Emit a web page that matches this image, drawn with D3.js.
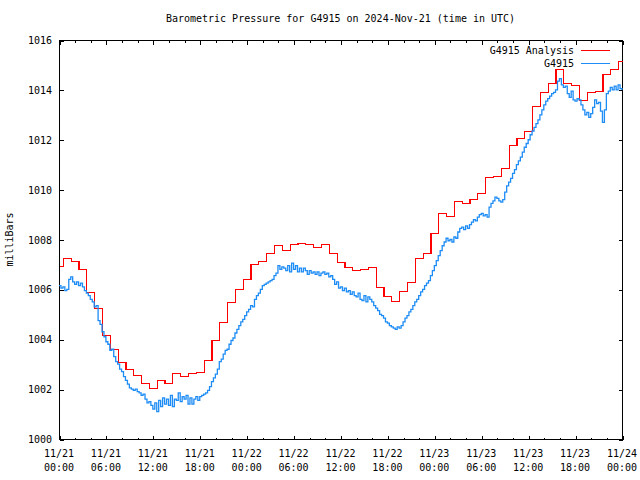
<!DOCTYPE html>
<html><head><meta charset="utf-8">
<script src="https://cdn.jsdelivr.net/npm/d3@7"></script>
<style>
html,body{margin:0;padding:0;background:#fff;}
text{font-family:"DejaVu Sans Mono",monospace;font-size:10px;fill:#000;}
</style></head>
<body>
<script>
const titleText = "Barometric Pressure for G4915 on 2024-Nov-21 (time in UTC)";
const yLabel = "milliBars";
const seriesNames = ["G4915 Analysis", "G4915"];
const seriesColors = ["#ff0000", "#1e8cf5"];
const yTicks = [1000, 1002, 1004, 1006, 1008, 1010, 1012, 1014, 1016];
const xTickHours = [0, 6, 12, 18, 24, 30, 36, 42, 48, 54, 60, 66, 72];
const xTickDates = ["11/21","11/21","11/21","11/21","11/22","11/22","11/22","11/22","11/23","11/23","11/23","11/23","11/24"];
const xTickTimes = ["00:00","06:00","12:00","18:00","00:00","06:00","12:00","18:00","00:00","06:00","12:00","18:00","00:00"];

// hourly analysis values, hour 0..72
const analysisValues = [
 1006.95,1007.25,1007.15,1006.8,1005.9,1005.25,1004.17,1003.6,1003.1,1002.79,
 1002.57,1002.26,1002.03,1002.35,1002.26,1002.63,1002.53,1002.63,1002.7,1003.17,
 1003.97,1004.68,1005.49,1006.0,1006.4,1007.02,1007.12,1007.45,1007.78,1007.57,
 1007.82,1007.85,1007.82,1007.7,1007.81,1007.45,1007.09,1006.91,1006.78,1006.8,
 1006.88,1006.08,1005.73,1005.53,1005.93,1006.3,1007.26,1007.46,1008.25,1009.05,
 1008.94,1009.53,1009.45,1009.61,1009.85,1010.49,1010.55,1010.87,1011.79,1012.06,
 1012.36,1013.35,1013.92,1014.26,1014.83,1014.28,1014.18,1013.59,1013.92,1013.96,
 1014.63,1014.83,1015.17
];

// station observations every 15 minutes, hour 0..72
const stationValues = [
 1006.15,1006.05,1006.1,1005.95, 1006.0,1006.4,1006.5,1006.3, 1006.2,1006.3,1006.15,1006.25,
 1006.1,1005.95,1005.85,1005.75, 1005.6,1005.5,1005.3,1005.35, 1004.75,1004.6,1004.3,1004.1,
 1003.9,1003.8,1003.55,1003.6, 1003.3,1003.1,1003.0,1002.8, 1002.7,1002.5,1002.35,1002.2,
 1002.05,1002.0,1001.95,1002.0, 1001.9,1001.85,1001.75,1001.8, 1001.6,1001.45,1001.5,1001.35,
 1001.2,1001.45,1001.1,1001.55, 1001.3,1001.65,1001.4,1001.6, 1001.35,1001.75,1001.3,1001.6,
 1001.55,1001.85,1001.5,1001.7, 1001.6,1001.75,1001.4,1001.65, 1001.4,1001.6,1001.7,1001.55,
 1001.7,1001.75,1001.8,1001.85, 1001.95,1002.1,1002.3,1002.45, 1002.6,1002.8,1003.1,1003.2,
 1003.4,1003.55,1003.6,1003.8, 1003.95,1004.05,1004.25,1004.4, 1004.55,1004.7,1004.8,1004.95,
 1005.1,1005.2,1005.35,1005.3, 1005.6,1005.75,1005.85,1006.0, 1006.15,1006.2,1006.25,1006.3,
 1006.35,1006.4,1006.55,1006.65, 1006.95,1006.8,1006.9,1006.85, 1006.75,1006.95,1006.7,1007.05,
 1006.8,1006.95,1006.7,1006.85, 1006.7,1006.85,1006.75,1006.6, 1006.75,1006.65,1006.7,1006.6,
 1006.7,1006.55,1006.65,1006.7, 1006.6,1006.65,1006.5,1006.55, 1006.4,1006.2,1006.3,1006.05,
 1006.1,1005.95,1006.05,1005.9, 1005.95,1005.8,1005.9,1005.75, 1005.7,1005.85,1005.6,1005.55,
 1005.75,1005.5,1005.7,1005.6, 1005.5,1005.35,1005.25,1005.15, 1005.0,1004.95,1004.85,1004.7,
 1004.65,1004.55,1004.5,1004.45, 1004.4,1004.5,1004.45,1004.55, 1004.7,1004.85,1004.95,1005.1,
 1005.2,1005.35,1005.5,1005.6, 1005.75,1005.9,1006.0,1006.15, 1006.25,1006.35,1006.55,1006.75,
 1006.95,1007.15,1007.35,1007.55, 1007.75,1007.9,1008.05,1007.95, 1008.0,1007.9,1008.1,1008.05,
 1008.3,1008.45,1008.5,1008.4, 1008.55,1008.45,1008.6,1008.7, 1008.8,1008.75,1008.9,1009.0,
 1009.05,1008.95,1009.0,1008.9, 1009.3,1009.45,1009.55,1009.7, 1009.65,1009.55,1009.5,1009.6,
 1009.9,1010.15,1010.3,1010.45, 1010.65,1010.8,1011.0,1011.15, 1011.3,1011.5,1011.7,1011.85,
 1012.0,1012.2,1012.35,1012.5, 1012.65,1012.8,1013.0,1013.2, 1013.4,1013.55,1013.65,1013.75,
 1013.85,1013.9,1014.0,1014.35, 1014.45,1014.2,1014.1,1014.15, 1013.85,1013.7,1013.95,1013.6,
 1013.55,1013.65,1013.6,1013.4, 1013.2,1013.0,1013.1,1012.9, 1013.05,1013.3,1013.6,1013.45,
 1013.5,1013.15,1012.7,1013.2, 1013.85,1013.95,1014.1,1014.0, 1014.15,1014.0,1014.2,1014.05,
 1014.0
];

const W = 640, H = 480;
const L = 59, R = 622, T = 40, B = 439;

const svg = d3.select("body").append("svg").attr("width", W).attr("height", H);
svg.append("rect").attr("width", W).attr("height", H).attr("fill", "#fff");

const x = d3.scaleLinear().domain([0, 72]).range([L, R]);
const y = d3.scaleLinear().domain([1000, 1016]).range([B, T]);

// title
svg.append("text").attr("x", (L + R) / 2).attr("y", 22).attr("text-anchor", "middle").text(titleText);
// y label
svg.append("text").attr("transform", `translate(13,${(T + B) / 2}) rotate(-90)`).attr("text-anchor", "middle").text(yLabel);

const g = svg.append("g").attr("shape-rendering", "crispEdges");

// axes with d3 axis generators
const minorHours = d3.range(0, 73, 2).filter(h => h % 6 !== 0);
g.append("g").attr("transform", `translate(0,${B + 0.5})`)
  .call(d3.axisTop(x).tickValues(minorHours).tickSize(2).tickFormat(""));
g.append("g").attr("transform", `translate(0,${B + 0.5})`)
  .call(d3.axisTop(x).tickValues(xTickHours).tickSize(4).tickFormat(""));
g.append("g").attr("transform", `translate(0,${T + 0.5})`)
  .call(d3.axisBottom(x).tickValues(minorHours).tickSize(2).tickFormat(""));
g.append("g").attr("transform", `translate(0,${T + 0.5})`)
  .call(d3.axisBottom(x).tickValues(xTickHours).tickSize(4).tickFormat(""));
g.append("g").attr("transform", `translate(${L + 0.5},0)`)
  .call(d3.axisRight(y).tickValues(yTicks).tickSize(4).tickFormat(""));
g.append("g").attr("transform", `translate(${R + 0.5},0)`)
  .call(d3.axisLeft(y).tickValues(yTicks).tickSize(4).tickFormat(""));
g.selectAll(".domain").remove();
g.selectAll(".tick line").attr("stroke", "#000");
g.selectAll(".tick").each(function(){
  const t = d3.select(this).attr("transform");
  const m = /translate\(([-\d.]+),([-\d.]+)\)/.exec(t);
  if (m) d3.select(this).attr("transform", `translate(${Math.round(+m[1]) + 0.5},${Math.round(+m[2]) + 0.5})`);
});

// y tick labels
svg.append("g").selectAll("text").data(yTicks).join("text")
  .attr("x", L - 7).attr("y", d => y(d) + 4).attr("text-anchor", "end").text(d => d);
// x tick labels
const xl = svg.append("g").selectAll("text").data(xTickHours).join("text")
  .attr("text-anchor", "middle");
xl.append("tspan").attr("x", d => x(d)).attr("y", B + 18).text((d, i) => xTickDates[i]);
xl.append("tspan").attr("x", d => x(d)).attr("y", B + 32).text((d, i) => xTickTimes[i]);

// series
svg.append("clipPath").attr("id", "c").append("rect")
  .attr("x", L).attr("y", T).attr("width", R - L + 1).attr("height", B - T);
const analysisLine = d3.line().x((d, i) => Math.round(x(i)) + 0.5).y(d => Math.round(y(d)) + 0.5).curve(d3.curveStep);
svg.append("path").datum(analysisValues).attr("d", analysisLine)
  .attr("fill", "none").attr("stroke", seriesColors[0]).attr("stroke-width", 1.2)
  .attr("shape-rendering", "crispEdges").attr("clip-path", "url(#c)");
const stationLine = d3.line().x((d, i) => x(i / 4)).y(d => y(d)).curve(d3.curveStepAfter);
svg.append("path").datum(stationValues).attr("d", stationLine)
  .attr("fill", "none").attr("stroke", seriesColors[1]).attr("stroke-width", 1.3).attr("clip-path", "url(#c)");

// frame
g.append("rect").attr("x", L + 0.5).attr("y", T + 0.5).attr("width", R - L).attr("height", B - T)
  .attr("fill", "none").attr("stroke", "#000");

// legend
const leg = svg.append("g");
seriesNames.forEach((n, i) => {
  const ly = 50 + i * 13;
  leg.append("text").attr("x", 574).attr("y", ly + 4).attr("text-anchor", "end").text(n);
  leg.append("line").attr("x1", 581).attr("x2", 610).attr("y1", ly + 0.5).attr("y2", ly + 0.5)
    .attr("stroke", seriesColors[i]).attr("stroke-width", 1.2).attr("shape-rendering", "crispEdges");
});
</script>
</body></html>
